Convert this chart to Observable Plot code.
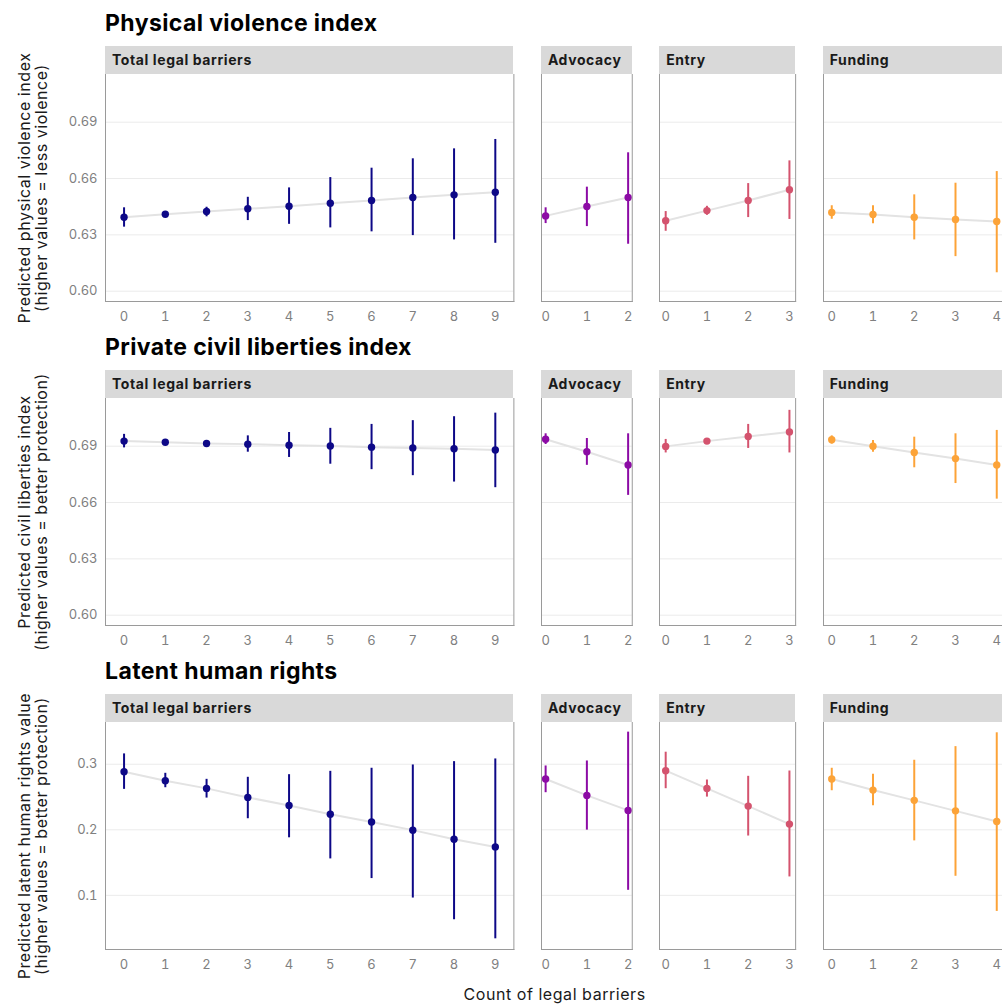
<!DOCTYPE html>
<html><head><meta charset="utf-8">
<script src="https://cdn.jsdelivr.net/npm/d3@7"></script>
<script src="https://cdn.jsdelivr.net/npm/@observablehq/plot@0.6"></script>
<style>
body{margin:0;background:#fff;font-family:Inter,"Noto Sans",sans-serif;}
#chart{position:relative;width:1002px;height:1007px;overflow:hidden;background:#fff;}
.title{position:absolute;left:105px;font-weight:700;font-size:23px;line-height:23px;letter-spacing:0.4px;color:#000;white-space:nowrap;}
.strip{position:absolute;background:#d9d9d9;height:28px;line-height:28px;font-weight:700;font-size:14px;letter-spacing:0.6px;color:#1a1a1a;padding-left:7px;box-sizing:border-box;white-space:nowrap;overflow:hidden;}
.ytitle{position:absolute;transform:translate(-50%,-50%) rotate(-90deg);white-space:nowrap;text-align:center;font-size:16px;line-height:17px;letter-spacing:0.55px;color:#1a1a1a;}
.xtitle{position:absolute;transform:translate(-50%,-50%);white-space:nowrap;font-size:16px;letter-spacing:0.55px;color:#1a1a1a;}
.panel{position:absolute;}
.panel svg{max-width:none !important;}
</style>
</head><body>
<div id="chart"></div>
<script>
// ---- data ----
const facets = ["Total legal barriers", "Advocacy", "Entry", "Funding"];
const facetMax = [9, 2, 3, 4];
const facetColors = ["#0d0887", "#8c0ba5", "#d4536e", "#fca338"];
const outcomes = ["Physical violence index", "Private civil liberties index", "Latent human rights"];
const yTitles = [
  ["Predicted physical violence index", "(higher values = less violence)"],
  ["Predicted civil liberties index", "(higher values = better protection)"],
  ["Predicted latent human rights value", "(higher values = better protection)"]
];
const yTicksRow = [[0.60, 0.63, 0.66, 0.69], [0.60, 0.63, 0.66, 0.69], [0.1, 0.2, 0.3]];
const yDomainRow = [[0.5945, 0.7154], [0.5945, 0.7154], [0.0174, 0.3637]];
const xTitle = "Count of legal barriers";

// Physical violence index
const physTotalEst = [0.6394,0.6410,0.6424,0.6439,0.6452,0.6468,0.6483,0.6499,0.6513,0.6527];
const physTotalLo  = [0.6341,0.6403,0.6396,0.6376,0.6356,0.6337,0.6316,0.6296,0.6273,0.6255];
const physTotalHi  = [0.6444,0.6417,0.6447,0.6500,0.6550,0.6605,0.6655,0.6705,0.6758,0.6808];
const physAdvEst = [0.6401,0.6451,0.6499];
const physAdvLo  = [0.6360,0.6344,0.6250];
const physAdvHi  = [0.6444,0.6554,0.6737];
const physEntEst = [0.6375,0.6429,0.6483,0.6540];
const physEntLo  = [0.6319,0.6404,0.6392,0.6382];
const physEntHi  = [0.6424,0.6452,0.6573,0.6694];
const physFunEst = [0.6419,0.6408,0.6394,0.6382,0.6371];
const physFunLo  = [0.6383,0.6359,0.6273,0.6184,0.6098];
const physFunHi  = [0.6455,0.6455,0.6513,0.6575,0.6637];

// Private civil liberties index
const civTotalEst = [0.6927,0.6921,0.6914,0.6911,0.6905,0.6901,0.6895,0.6891,0.6886,0.6880];
const civTotalLo  = [0.6891,0.6912,0.6905,0.6868,0.6840,0.6804,0.6775,0.6743,0.6709,0.6679];
const civTotalHi  = [0.6963,0.6930,0.6923,0.6955,0.6973,0.6995,0.7016,0.7036,0.7057,0.7076];
const civAdvEst = [0.6937,0.6870,0.6800];
const civAdvLo  = [0.6909,0.6798,0.6638];
const civAdvHi  = [0.6966,0.6941,0.6966];
const civEntEst = [0.6899,0.6927,0.6952,0.6976];
const civEntLo  = [0.6864,0.6915,0.6888,0.6864];
const civEntHi  = [0.6936,0.6939,0.7016,0.7091];
const civFunEst = [0.6934,0.6900,0.6866,0.6834,0.6800];
const civFunLo  = [0.6911,0.6868,0.6785,0.6701,0.6618];
const civFunHi  = [0.6955,0.6930,0.6948,0.6966,0.6984];

// Latent human rights
const hrTotalEst = [0.2887,0.2749,0.2632,0.2494,0.2372,0.2238,0.2118,0.1995,0.1857,0.1739];
const hrTotalLo  = [0.2617,0.2642,0.2484,0.2169,0.1878,0.1556,0.1256,0.0959,0.0628,0.0337];
const hrTotalHi  = [0.3158,0.2862,0.2770,0.2801,0.2841,0.2892,0.2939,0.2989,0.3040,0.3081];
const hrAdvEst = [0.2775,0.2525,0.2296];
const hrAdvLo  = [0.2566,0.1995,0.1077];
const hrAdvHi  = [0.2974,0.3050,0.3490];
const hrEntEst = [0.2902,0.2632,0.2362,0.2087];
const hrEntLo  = [0.2627,0.2499,0.1905,0.1281];
const hrEntHi  = [0.3184,0.2760,0.2816,0.2897];
const hrFunEst = [0.2775,0.2606,0.2449,0.2289,0.2127];
const hrFunLo  = [0.2596,0.2366,0.1831,0.1291,0.0755];
const hrFunHi  = [0.2939,0.2847,0.3061,0.3269,0.3480];

const series = [
  [[physTotalEst, physTotalLo, physTotalHi], [physAdvEst, physAdvLo, physAdvHi], [physEntEst, physEntLo, physEntHi], [physFunEst, physFunLo, physFunHi]],
  [[civTotalEst, civTotalLo, civTotalHi], [civAdvEst, civAdvLo, civAdvHi], [civEntEst, civEntLo, civEntHi], [civFunEst, civFunLo, civFunHi]],
  [[hrTotalEst, hrTotalLo, hrTotalHi], [hrAdvEst, hrAdvLo, hrAdvHi], [hrEntEst, hrEntLo, hrEntHi], [hrFunEst, hrFunLo, hrFunHi]]
];

// ---- layout ----
const chart = document.getElementById("chart");
const pxPerUnit = 41.25;
const expand = 0.05;
const gap = 27.5;
const panelLeft0 = 105;
const panelH = 227;
const rowPanelTop = [74, 398, 722];
const stripH = 28;
const marginBottom = 30;

const panelWidths = facetMax.map(n => n * (1 + 2 * expand) * pxPerUnit);
const panelLefts = [];
{ let x = panelLeft0; panelWidths.forEach(w => { panelLefts.push(x); x += w + gap; }); }

function add(cls, text, styles) {
  const d = document.createElement("div");
  d.className = cls;
  if (Array.isArray(text)) d.innerHTML = text.join("<br>"); else d.textContent = text;
  Object.assign(d.style, styles);
  chart.appendChild(d);
  return d;
}

outcomes.forEach((title, r) => {
  const top = rowPanelTop[r];
  add("title", title, {top: (top - stripH - 34) + "px"});
  add("ytitle", yTitles[r], {left: "33px", top: (top + panelH / 2) + "px"});
  const yTicks = yTicksRow[r];
  const yFmt = r < 2 ? d3.format(".2f") : d3.format(".1f");
  facets.forEach((fname, f) => {
    const n = facetMax[f];
    const w = panelWidths[f];
    const left = panelLefts[f];
    add("strip", fname, {left: left + "px", top: (top - stripH) + "px", width: w + "px"});
    const [est, lo, hi] = series[r][f];
    const data = est.map((e, i) => ({x: i, est: e, lo: lo[i], hi: hi[i]}));
    const ml = f === 0 ? 60 : 0;
    const color = facetColors[f];
    const marks = [
      Plot.gridY(yTicks, {stroke: "#ebebeb", strokeOpacity: 1, strokeWidth: 1}),
      Plot.line(data, {x: "x", y: "est", stroke: "#e3e3e3", strokeWidth: 2}),
      Plot.ruleX(data, {x: "x", y1: "lo", y2: "hi", stroke: color, strokeWidth: 2}),
      Plot.dot(data, {x: "x", y: "est", fill: color, r: 3.7}),
      Plot.frame({anchor: "left", stroke: "#9a9a9a", strokeWidth: 1}),
      Plot.frame({anchor: "right", stroke: "#9a9a9a", strokeWidth: 1}),
      Plot.frame({anchor: "bottom", stroke: "#9a9a9a", strokeWidth: 1}),
      Plot.axisX(d3.range(n + 1), {tickSize: 0, tickPadding: 10, tickFormat: d3.format("d"), fill: "#808080", label: null})
    ];
    if (f === 0) {
      marks.push(Plot.axisY(yTicks, {tickSize: 0, tickPadding: 8, tickFormat: yFmt, fill: "#808080", label: null}));
    }
    const svg = Plot.plot({
      width: w + ml,
      height: panelH + marginBottom,
      marginLeft: ml, marginRight: 0, marginTop: 0, marginBottom: marginBottom,
      x: {domain: [-expand * n, n * (1 + expand)], axis: null},
      y: {domain: yDomainRow[r], axis: null},
      style: {fontFamily: "Inter, 'Noto Sans', sans-serif", fontSize: "13px", overflow: "visible", background: "transparent", maxWidth: "none"},
      marks
    });
    const holder = add("panel", "", {left: (left - ml) + "px", top: top + "px", width: (w + ml) + "px", height: (panelH + marginBottom) + "px"});
    holder.appendChild(svg);
  });
});

add("xtitle", xTitle, {left: (panelLeft0 + (panelLefts[3] + panelWidths[3] - panelLeft0) / 2) + "px", top: "994px"});
</script>
</body></html>
